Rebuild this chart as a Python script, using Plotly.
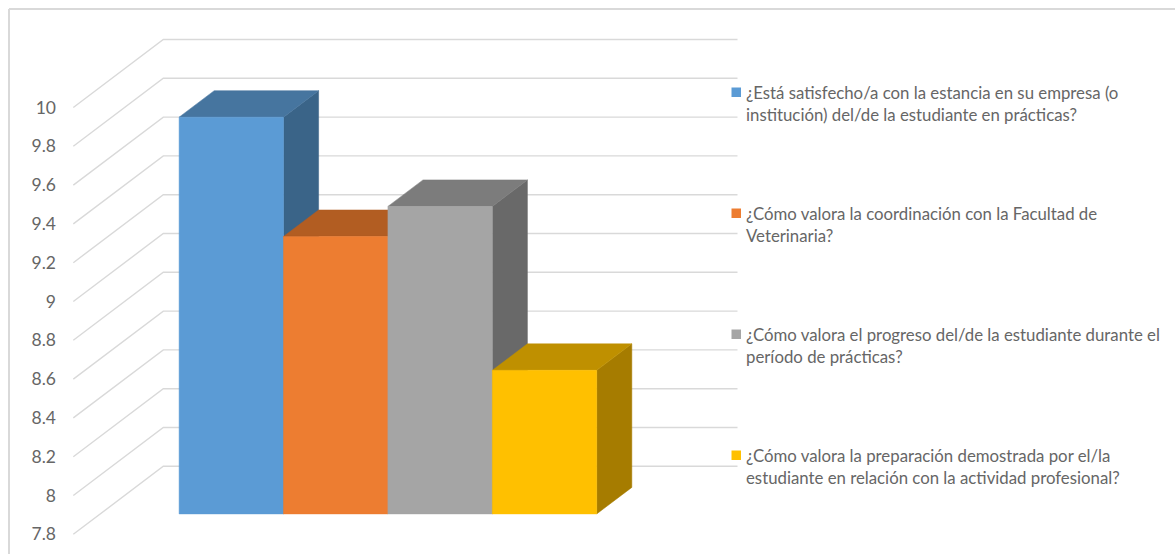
import plotly.graph_objects as go

# ---- data ----
categories = [
    "¿Está satisfecho/a con la estancia en su empresa (o<br>institución) del/de la estudiante en prácticas?",
    "¿Cómo valora la coordinación con la Facultad de<br>Veterinaria?",
    "¿Cómo valora el progreso del/de la estudiante durante el<br>período de prácticas?",
    "¿Cómo valora la preparación demostrada por el/la<br>estudiante en relación con la actividad profesional?",
]
values = [9.845, 9.23, 9.385, 8.54]
tick_values = [7.8, 8.0, 8.2, 8.4, 8.6, 8.8, 9.0, 9.2, 9.4, 9.6, 9.8, 10.0]
tick_labels = ["7.8", "8", "8.2", "8.4", "8.6", "8.8", "9", "9.2", "9.4", "9.6", "9.8", "10"]
front_colors = ["#5B9BD5", "#ED7D31", "#A5A5A5", "#FFC000"]
top_colors = ["#46759F", "#B25D22", "#7C7C7C", "#BF9000"]
side_colors = ["#3A6488", "#8E4B1D", "#696969", "#A67C00"]

# ---- chart geometry (oblique projection) ----
W, H = 1175, 554
LEFT = 60
PX_X = 104.4      # pixels per category
PX_Y = 194.0      # pixels per value unit
X0_PX = 73.3      # pixel of wall front edge
Y0_PX = 534.3     # pixel of axis minimum on the front edge
DEPTH_X = 90 / PX_X
DEPTH_Y = 68 / PX_Y
FLOOR = 5.5       # floor width in categories
GAP = 0.755
BAR_FRONT = 0.30
BAR_DEPTH = 0.39
AXIS_MIN = tick_values[0]


def proj(x, v, t):
    return x + t * DEPTH_X, v + t * DEPTH_Y


fig = go.Figure()

# gridlines: side wall + back wall
gx, gy = [], []
for v in tick_values:
    for x, t in [(0, 0), (0, 1), (FLOOR, 1)]:
        px, py = proj(x, v, t)
        gx.append(px)
        gy.append(py)
    gx.append(None)
    gy.append(None)
fig.add_trace(go.Scatter(x=gx, y=gy, mode="lines", line=dict(color="#D9D9D9", width=1.4),
                         showlegend=False, hoverinfo="skip"))


def face(corners, color, name):
    pts = [proj(*c) for c in corners]
    xs = [p[0] for p in pts] + [pts[0][0]]
    ys = [p[1] for p in pts] + [pts[0][1]]
    fig.add_trace(go.Scatter(x=xs, y=ys, mode="lines", fill="toself", fillcolor=color,
                             line=dict(color=color, width=0.5), showlegend=False,
                             name=name, hoverinfo="name"))


t0, t1 = BAR_FRONT, BAR_FRONT + BAR_DEPTH
for i, v in enumerate(values):
    a, b = GAP + i, GAP + i + 1
    nm = categories[i].replace("<br>", " ")
    face([(b, AXIS_MIN, t0), (b, AXIS_MIN, t1), (b, v, t1), (b, v, t0)], side_colors[i], nm)
    face([(a, v, t0), (b, v, t0), (b, v, t1), (a, v, t1)], top_colors[i], nm)
    face([(a, AXIS_MIN, t0), (b, AXIS_MIN, t0), (b, v, t0), (a, v, t0)], front_colors[i], nm)

FONT = "Lato, Carlito, Calibri, sans-serif"
TXT = "#666666"
paper_x = lambda px: (px - LEFT) / (W - LEFT)
paper_y = lambda py: 1 - py / H

shapes = [
    dict(type="line", xref="paper", yref="paper", x0=paper_x(9), x1=paper_x(W), y0=paper_y(9), y1=paper_y(9),
         line=dict(color="#D9D9D9", width=2), layer="below"),
    dict(type="line", xref="paper", yref="paper", x0=paper_x(9), x1=paper_x(9), y0=paper_y(9), y1=paper_y(H),
         line=dict(color="#D9D9D9", width=2), layer="below"),
]
annotations = []
legend_tops = [80, 201, 322, 443]
for c, col, top in zip(categories, front_colors, legend_tops):
    annotations.append(dict(xref="paper", yref="paper", x=paper_x(744), y=paper_y(top),
                            xanchor="left", yanchor="top", align="left", showarrow=False,
                            text=c, font=dict(family=FONT, size=16.8, color=TXT)))
    shapes.append(dict(type="rect", xref="paper", yref="paper",
                       x0=paper_x(731.5), x1=paper_x(741), y0=paper_y(top + 17), y1=paper_y(top + 7.5),
                       fillcolor=col, line=dict(width=0)))

fig.update_layout(
    width=W, height=H,
    margin=dict(l=LEFT, r=0, t=0, b=0, pad=0),
    paper_bgcolor="white", plot_bgcolor="rgba(0,0,0,0)",
    showlegend=False,
    xaxis=dict(range=[(LEFT - X0_PX) / PX_X, (W - X0_PX) / PX_X], visible=False, fixedrange=True),
    yaxis=dict(range=[AXIS_MIN - (H - Y0_PX) / PX_Y, AXIS_MIN + Y0_PX / PX_Y],
               tickmode="array", tickvals=tick_values, ticktext=tick_labels,
               showgrid=False, zeroline=False, showline=False, ticks="",
               ticklabelstandoff=3, fixedrange=True,
               tickfont=dict(family=FONT, size=17.5, color=TXT)),
    shapes=shapes, annotations=annotations,
)

fig.write_html("out.html", config={"displayModeBar": False},
               post_script="document.body.style.margin='0';")
